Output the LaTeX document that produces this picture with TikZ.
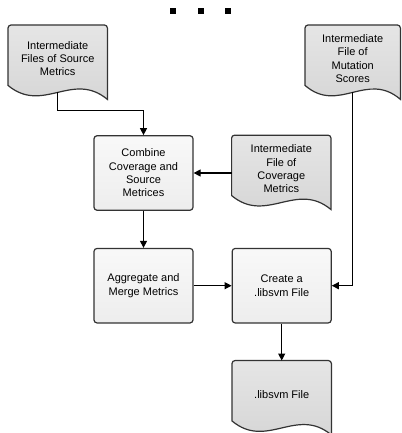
\documentclass[tikz,border=0pt]{standalone}
\usepackage{fontspec}
\setmainfont{Liberation Sans}
\usetikzlibrary{positioning,arrows.meta,calc,backgrounds}

% document shape drawn round a (plain) node
\newcommand\docshape[1]{%
  \path[docfill]
    ([yshift=7pt]#1.south west) [rounded corners=3pt] -- (#1.north west) -- (#1.north east)
    [sharp corners] -- ([yshift=-7pt]#1.south east)
    .. controls ($(#1.south west)!0.65!(#1.south east)+(0,22pt)$)
    and ($(#1.south west)!0.35!(#1.south east)+(0,-22pt)$) .. ([yshift=7pt]#1.south west)
    -- cycle;}

\begin{document}
\begin{tikzpicture}[
        x=1pt, y=1pt,
        process/.style={
                rectangle,
                rounded corners=3pt,
                draw=black!80,
                line width=1.2pt,
                top color=gray!5,
                bottom color=gray!14,
                minimum width=99pt,
                minimum height=74.5pt,
                align=center,
                font=\fontsize{11}{13.3}\selectfont
            },
        doc/.style={
                rectangle,
                minimum width=99pt,
                minimum height=67pt,
                inner sep=0pt,
                align=center,
                font=\fontsize{11}{13.3}\selectfont
            },
        docfill/.style={
                draw=black!80,
                line width=1.2pt,
                top color=gray!20,
                bottom color=gray!34
            },
        flow/.style={->, line width=1.1pt, black},
        >={Triangle[length=7pt,width=7pt]}
    ]
    \useasboundingbox (0,0) rectangle (401,-433);

    \foreach \dx in {173,201,228}
        \fill (\dx-2.8,-8.5) rectangle (\dx+2.8,-14);

    \node[process] (combine) at (143.5,-173) {Combine\\Coverage and\\Source\\Metrices};
    \node[process] (aggregate) [below=37pt of combine] {Aggregate and\\Merge Metrics};
    \node[process] (create) [right=38pt of aggregate] {Create a\\.libsvm File};

    \node[doc] (source) [anchor=north west] at (8,-25) {Intermediate\\Files of Source\\Metrics};
    \node[doc, minimum width=95pt] (mutation) [anchor=north west] at (305,-25) {Intermediate\\File of\\Mutation\\Scores};
    \node[doc] (coverage) [below right=0pt and 38pt of combine.north east] {Intermediate\\File of\\Coverage\\Metrics};
    \node[doc] (libsvm) [below=37pt of create] {.libsvm File};

    \begin{scope}[on background layer]
        \docshape{source}
        \docshape{mutation}
        \docshape{coverage}
        \docshape{libsvm}
    \end{scope}

    \draw[flow] (source.south) -- ++(0,-18) -| (combine.north);
    \draw[flow] (coverage.west |- combine.east) -- (combine.east);
    \draw[flow] (combine) -- (aggregate);
    \draw[flow] (aggregate) -- (create);
    \draw[flow] (mutation.south) |- (create.east);
    \draw[flow] (create) -- (libsvm);
\end{tikzpicture}
\end{document}
